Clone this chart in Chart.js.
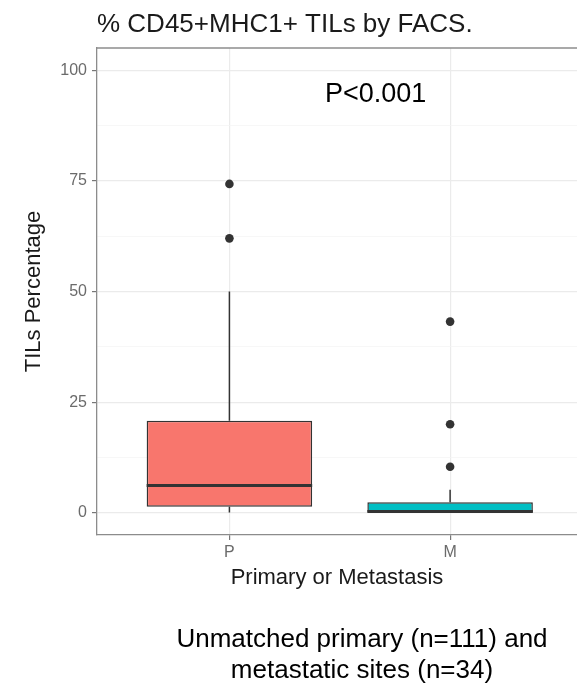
<!DOCTYPE html>
<html>
<head>
<meta charset="utf-8">
<script src="https://cdn.jsdelivr.net/npm/chart.js@4/dist/chart.umd.min.js"></script>
<style>
  html, body { margin: 0; padding: 0; background: #fff; overflow: hidden; }
  canvas { display: block; }
</style>
</head>
<body>
<canvas id="chart" width="577" height="684"></canvas>
<script>
// box plot stats
const groups = ['P', 'M'];
const lowerWhisker = [0.1, 0];
const q1 = [1.4, 0];
const median = [6.2, 0.3];
const q3 = [20.8, 2.4];
const upperWhisker = [50, 5.2];
const outliers = [[62.0, 74.3], [10.4, 20.0, 43.2]];
const boxColors = ['#F8766D', '#00BFC4'];
const yTicks = [0, 12.5, 25, 37.5, 50, 62.5, 75, 87.5, 100];

const outlierPoints = [];
outliers.forEach((list, i) => list.forEach(v => outlierPoints.push({ x: i + 1, y: v })));

const isMajor = v => v % 25 === 0;

const boxExtras = {
    id: 'boxExtras',
    afterDatasetsDraw(chart) {
        const ctx = chart.ctx;
        const xs = chart.scales.x;
        const ys = chart.scales.y;
        const bars = chart.getDatasetMeta(0).data;
        ctx.save();
        ctx.strokeStyle = '#333333';
        ctx.lineCap = 'butt';
        groups.forEach((g, i) => {
            const x = xs.getPixelForValue(i + 1);
            // whiskers
            ctx.lineWidth = 1.5;
            ctx.beginPath();
            ctx.moveTo(x, ys.getPixelForValue(q3[i]));
            ctx.lineTo(x, ys.getPixelForValue(upperWhisker[i]));
            ctx.moveTo(x, ys.getPixelForValue(q1[i]));
            ctx.lineTo(x, ys.getPixelForValue(lowerWhisker[i]));
            ctx.stroke();
            // median
            const half = bars[i].width / 2;
            const ym = ys.getPixelForValue(median[i]);
            ctx.lineWidth = 3;
            ctx.beginPath();
            ctx.moveTo(x - half, ym);
            ctx.lineTo(x + half, ym);
            ctx.stroke();
        });
        ctx.restore();
    },
    afterDraw(chart) {
        const ctx = chart.ctx;
        const area = chart.chartArea;
        ctx.save();
        // top border of the panel
        ctx.strokeStyle = '#8c8c8c';
        ctx.lineWidth = 1.3;
        ctx.beginPath();
        ctx.moveTo(area.left, area.top);
        ctx.lineTo(area.right, area.top);
        ctx.stroke();

        ctx.fillStyle = '#1a1a1a';
        ctx.textBaseline = 'alphabetic';
        ctx.textAlign = 'left';
        ctx.font = '26px "Liberation Sans", Arial, sans-serif';
        ctx.fillText('% CD45+MHC1+ TILs by FACS.', area.left, 32);

        ctx.fillStyle = '#000';
        ctx.font = '27px "Liberation Sans", Arial, sans-serif';
        ctx.fillText('P<0.001', 325, 102);

        ctx.textAlign = 'center';
        ctx.font = '26px "Liberation Sans", Arial, sans-serif';
        ctx.fillText('Unmatched primary (n=111) and', 362, 647);
        ctx.fillText('metastatic sites (n=34)', 362, 678);
        ctx.restore();
    }
};

new Chart(document.getElementById('chart'), {
    type: 'bar',
    data: {
        datasets: [
            {
                type: 'bar',
                data: groups.map((g, i) => ({ x: i + 1, y: [q1[i], q3[i]] })),
                backgroundColor: boxColors,
                borderColor: '#333333',
                borderWidth: 1.5,
                borderSkipped: false,
                categoryPercentage: 1,
                barPercentage: 0.75,
                order: 2
            },
            {
                type: 'scatter',
                data: outlierPoints,
                pointRadius: 4.3,
                backgroundColor: '#333333',
                borderWidth: 0,
                order: 1
            }
        ]
    },
    options: {
        responsive: false,
        animation: false,
        layout: { autoPadding: false, padding: { top: 48, left: 0, right: 0, bottom: 0 } },
        plugins: {
            legend: { display: false },
            tooltip: { enabled: false }
        },
        scales: {
            x: {
                type: 'linear',
                min: 0.4,
                max: 2.575,
                offset: false,
                afterFit: s => { s.height = 149; },
                afterBuildTicks: s => { s.ticks = groups.map((g, i) => ({ value: i + 1 })); },
                ticks: {
                    callback: v => groups[v - 1],
                    color: '#6b6b6b',
                    font: { family: '"Liberation Sans", Arial', size: 16 },
                    padding: 3,
                    maxRotation: 0
                },
                grid: {
                    offset: false,
                    color: '#ebebeb',
                    lineWidth: 1.2,
                    tickColor: '#777777',
                    tickLength: 5
                },
                border: { display: true, color: '#8c8c8c', width: 1.3 },
                title: {
                    display: true,
                    text: 'Primary or Metastasis',
                    color: '#1a1a1a',
                    font: { family: '"Liberation Sans", Arial', size: 22 },
                    padding: { top: 0, bottom: 93 }
                }
            },
            y: {
                type: 'linear',
                min: -5,
                max: 105,
                afterFit: s => { s.width = 97; },
                afterBuildTicks: s => { s.ticks = yTicks.map(v => ({ value: v })); },
                ticks: {
                    callback: v => isMajor(v) ? v : '',
                    color: '#6b6b6b',
                    font: { family: '"Liberation Sans", Arial', size: 16 },
                    padding: 5
                },
                grid: {
                    color: c => isMajor(c.tick.value) ? '#ebebeb' : '#f4f4f4',
                    lineWidth: c => isMajor(c.tick.value) ? 1.2 : 0.7,
                    tickColor: c => isMajor(c.tick.value) ? '#777777' : 'rgba(0,0,0,0)',
                    tickLength: 5
                },
                border: { display: true, color: '#8c8c8c', width: 1.3 },
                title: {
                    display: true,
                    text: 'TILs Percentage',
                    color: '#1a1a1a',
                    font: { family: '"Liberation Sans", Arial', size: 22 },
                    padding: { top: 21, bottom: 0 }
                }
            }
        }
    },
    plugins: [boxExtras]
});
</script>
</body>
</html>
